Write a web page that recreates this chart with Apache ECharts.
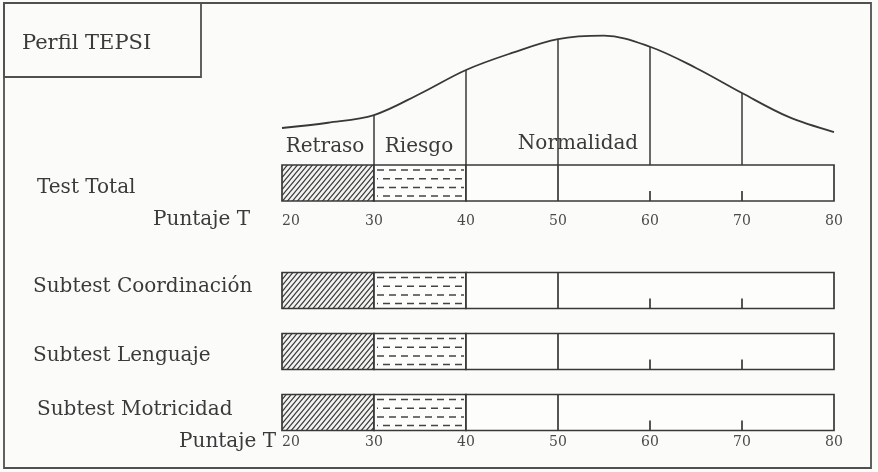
<!DOCTYPE html>
<html>
<head>
<meta charset="utf-8">
<script src="https://cdn.jsdelivr.net/npm/echarts@6/dist/echarts.min.js"></script>
<style>
html,body{margin:0;padding:0;background:#fbfbf9;}
#chart{width:878px;height:472px;}
</style>
</head>
<body>
<div id="chart"></div>
<script>
// ---- data ----
const title = 'Perfil TEPSI';
const axisName = 'Puntaje T';
const tickValues = [20, 30, 40, 50, 60, 70, 80];
const bandNames = ['Retraso', 'Riesgo', 'Normalidad'];
const bandStart = [20, 30, 40];
const bandEnd = [30, 40, 80];
const totalRows = ['Test Total'];
const subRows = ['Subtest Coordinación', 'Subtest Lenguaje', 'Subtest Motricidad'];
const curveX = [20, 25, 30, 35, 40, 45, 50, 55, 60, 65, 70, 75, 80];
const curveY = [27.4, 31.3, 37.0, 52.8, 70.4, 83.0, 93.3, 95.8, 87.6, 71.9, 53.3, 35.8, 24.4];
const dropX = [30, 40, 50, 60, 70];
const fullDividers = [50];
const bottomTicks = [60, 70];

// ---- styles ----
const INK = '#383838';
const TXT = '#3a3a3a';
const FONT = 'DejaVu Serif';
const BAR_H = 36;

function hatchCanvas() {
  const c = document.createElement('canvas');
  c.width = 5; c.height = 6;
  const g = c.getContext('2d');
  g.fillStyle = '#f2f2f0'; g.fillRect(0, 0, 5, 6);
  g.strokeStyle = '#3a3a3a'; g.lineWidth = 1.15;
  g.beginPath();
  g.moveTo(0, 6); g.lineTo(5, 0);
  g.moveTo(-1, 1.2); g.lineTo(1, -1.2);
  g.moveTo(4, 7.2); g.lineTo(6, 4.8);
  g.stroke();
  return c;
}
const hatch = hatchCanvas();

function barData(rows) {
  const out = [];
  rows.forEach((r, ri) => {
    bandNames.forEach((b, bi) => out.push([ri, bandStart[bi], bandEnd[bi], bi]));
  });
  return out;
}
function markData(rows) {
  const out = [];
  rows.forEach((r, ri) => {
    fullDividers.forEach(v => out.push([ri, v, 0]));
    bottomTicks.forEach(v => out.push([ri, v, 1]));
  });
  return out;
}

function renderBar(params, api) {
  const row = api.value(0), s = api.value(1), e = api.value(2), band = api.value(3);
  const a = api.coord([s, row]), b = api.coord([e, row]);
  const x = a[0], y = a[1] - BAR_H / 2, w = b[0] - a[0];
  const children = [{
    type: 'rect',
    shape: { x: x, y: y, width: w, height: BAR_H },
    style: { fill: band === 0 ? { image: hatch, repeat: 'repeat' } : '#fdfdfb', stroke: INK, lineWidth: 1.7 }
  }];
  if (band === 1) {
    for (let k = 0; k < 4; k++) {
      const yy = y + 5 + k * 8.7;
      children.push({
        type: 'line',
        shape: { x1: x + 3, y1: yy, x2: x + w - 2, y2: yy },
        style: { stroke: '#444', lineWidth: 1.5, lineDash: [7, 5], lineDashOffset: (k % 2) * 6 }
      });
    }
  }
  return { type: 'group', children: children };
}

function renderMark(params, api) {
  const row = api.value(0), v = api.value(1), kind = api.value(2);
  const p = api.coord([v, row]);
  const top = p[1] - BAR_H / 2, bot = p[1] + BAR_H / 2;
  return {
    type: 'line',
    shape: { x1: p[0], y1: kind === 0 ? top : bot - 10, x2: p[0], y2: bot },
    style: { stroke: INK, lineWidth: 1.7 }
  };
}

function renderDrop(params, api) {
  const x = api.value(0), h = api.value(1);
  const a = api.coord([x, h]), b = api.coord([x, 0]);
  return { type: 'line', shape: { x1: a[0], y1: a[1], x2: b[0], y2: b[1] }, style: { stroke: INK, lineWidth: 1.5 } };
}

const axisLabelBase = { color: '#4a4a4a', fontFamily: FONT, fontSize: 14, alignMinLabel: 'left' };

function txt(text, x, y, align, size) {
  return { type: 'text', x: x, y: y,
    style: { text: text, fill: TXT, font: (size || 20) + 'px "' + FONT + '"', textAlign: align || 'left', textVerticalAlign: 'middle' } };
}

const chart = echarts.init(document.getElementById('chart'));
chart.setOption({
  backgroundColor: '#fbfbf9',
  animation: false,
  grid: [
    { left: 282, right: 44, top: 30, height: 135 },
    { left: 282, right: 44, top: 165, height: 36 },
    { left: 282, right: 44, top: 260, height: 183 }
  ],
  xAxis: [
    { gridIndex: 0, type: 'value', min: 20, max: 80, show: false },
    { gridIndex: 1, type: 'value', min: tickValues[0], max: tickValues[tickValues.length - 1], interval: 10,
      axisLine: { show: false }, axisTick: { show: false }, splitLine: { show: false },
      axisLabel: Object.assign({ margin: 13 }, axisLabelBase) },
    { gridIndex: 2, type: 'value', min: tickValues[0], max: tickValues[tickValues.length - 1], interval: 10,
      axisLine: { show: false }, axisTick: { show: false }, splitLine: { show: false },
      axisLabel: Object.assign({ margin: -8 }, axisLabelBase) }
  ],
  yAxis: [
    { gridIndex: 0, type: 'value', min: 0, max: 100, show: false },
    { gridIndex: 1, type: 'category', data: totalRows, show: false },
    { gridIndex: 2, type: 'category', data: subRows, inverse: true, show: false }
  ],
  series: [
    { type: 'line', xAxisIndex: 0, yAxisIndex: 0, smooth: 0.35, symbol: 'none',
      lineStyle: { color: INK, width: 1.8 },
      data: curveX.map((x, i) => [x, curveY[i]]) },
    { type: 'custom', xAxisIndex: 0, yAxisIndex: 0, renderItem: renderDrop,
      data: dropX.map(x => [x, curveY[curveX.indexOf(x)]]) },
    { type: 'custom', xAxisIndex: 1, yAxisIndex: 1, renderItem: renderBar,
      encode: { x: [1, 2], y: 0 }, data: barData(totalRows) },
    { type: 'custom', xAxisIndex: 1, yAxisIndex: 1, renderItem: renderMark,
      encode: { x: 1, y: 0 }, data: markData(totalRows) },
    { type: 'custom', xAxisIndex: 2, yAxisIndex: 2, renderItem: renderBar,
      encode: { x: [1, 2], y: 0 }, data: barData(subRows) },
    { type: 'custom', xAxisIndex: 2, yAxisIndex: 2, renderItem: renderMark,
      encode: { x: 1, y: 0 }, data: markData(subRows) }
  ],
  graphic: [
    { type: 'rect', shape: { x: 4, y: 3, width: 867, height: 465 }, style: { fill: 'none', stroke: '#505050', lineWidth: 1.8 } },
    { type: 'rect', shape: { x: 4, y: 3, width: 197, height: 74 }, style: { fill: 'none', stroke: '#505050', lineWidth: 1.8 } },
    txt(title, 22, 44, 'left', 21),
    txt(bandNames[0], 325, 147, 'center'),
    txt(bandNames[1], 419, 147, 'center'),
    txt(bandNames[2], 578, 144, 'center'),
    txt(totalRows[0], 37, 188),
    txt(axisName, 250, 220, 'right'),
    txt(subRows[0], 33, 287),
    txt(subRows[1], 33, 356),
    txt(subRows[2], 37, 410),
    txt(axisName, 276, 442, 'right')
  ]
});
</script>
</body>
</html>
